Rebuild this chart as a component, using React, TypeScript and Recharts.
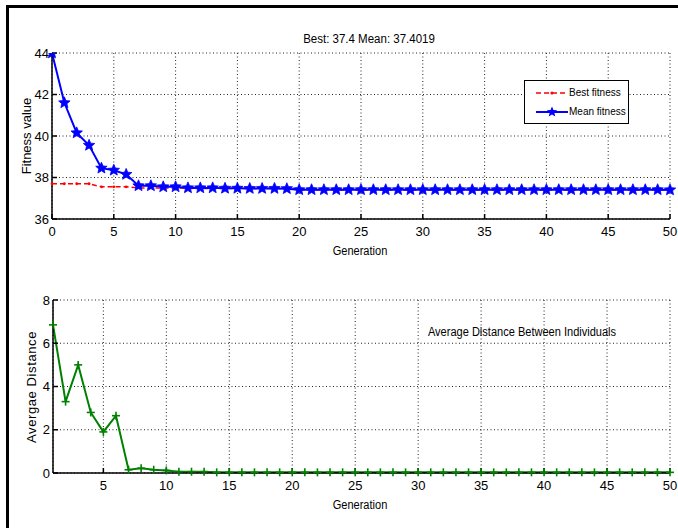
import React from 'react';
import { LineChart, Line, XAxis, YAxis, CartesianGrid } from 'recharts';

const generations = [
  0, 1, 2, 3, 4, 5, 6, 7, 8, 9, 10, 11, 12, 13, 14, 15, 16, 17, 18, 19, 20, 21, 22, 23, 24, 25,
  26, 27, 28, 29, 30, 31, 32, 33, 34, 35, 36, 37, 38, 39, 40, 41, 42, 43, 44, 45, 46, 47, 48, 49, 50,
];

const bestFitness = [
  37.7, 37.7, 37.7, 37.7, 37.55, 37.55, 37.55, 37.5, 37.5, 37.5, 37.5, 37.47, 37.47, 37.47, 37.47,
  37.47, 37.47, 37.47, 37.47, 37.47, 37.4, 37.4, 37.4, 37.4, 37.4, 37.4, 37.4, 37.4, 37.4, 37.4,
  37.4, 37.4, 37.4, 37.4, 37.4, 37.4, 37.4, 37.4, 37.4, 37.4, 37.4, 37.4, 37.4, 37.4, 37.4, 37.4,
  37.4, 37.4, 37.4, 37.4, 37.4,
];

const meanFitness = [
  44.0, 41.6, 40.15, 39.55, 38.45, 38.35, 38.15, 37.6, 37.6, 37.55, 37.55, 37.5, 37.5, 37.5, 37.48,
  37.48, 37.47, 37.47, 37.47, 37.46, 37.41, 37.41, 37.41, 37.41, 37.41, 37.41, 37.41, 37.41, 37.41,
  37.41, 37.41, 37.41, 37.41, 37.41, 37.41, 37.41, 37.41, 37.41, 37.41, 37.41, 37.41, 37.41, 37.41,
  37.41, 37.41, 37.41, 37.41, 37.41, 37.41, 37.41, 37.4019,
];

const distGenerations = [
  1, 2, 3, 4, 5, 6, 7, 8, 9, 10, 11, 12, 13, 14, 15, 16, 17, 18, 19, 20, 21, 22, 23, 24, 25, 26,
  27, 28, 29, 30, 31, 32, 33, 34, 35, 36, 37, 38, 39, 40, 41, 42, 43, 44, 45, 46, 47, 48, 49, 50,
];

const avgDistance = [
  6.85, 3.3, 5.0, 2.8, 1.9, 2.65, 0.15, 0.22, 0.15, 0.12, 0.06, 0.06, 0.06, 0.03, 0.03, 0.03,
  0.03, 0.03, 0.03, 0.03, 0.03, 0.03, 0.03, 0.03, 0.03, 0.03, 0.03, 0.03, 0.03, 0.03, 0.03, 0.03,
  0.03, 0.03, 0.03, 0.03, 0.03, 0.03, 0.03, 0.03, 0.03, 0.03, 0.03, 0.03, 0.03, 0.03, 0.03, 0.03,
  0.03, 0.03,
];

const topXTicks = [0, 5, 10, 15, 20, 25, 30, 35, 40, 45, 50];
const topYTicks = [36, 38, 40, 42, 44];
const bottomXTicks = [5, 10, 15, 20, 25, 30, 35, 40, 45, 50];
const bottomYTicks = [0, 2, 4, 6, 8];

const fitnessData = generations.map((g, i) => ({ gen: g, best: bestFitness[i], mean: meanFitness[i] }));
const distanceData = distGenerations.map((g, i) => ({ gen: g, dist: avgDistance[i] }));

const FONT = "'Liberation Sans', Arial, sans-serif";
const tickStyle = { fill: '#000', fontSize: 13, fontFamily: FONT };

function starPoints(cx: number, cy: number, r: number) {
  const pts: string[] = [];
  for (let i = 0; i < 10; i++) {
    const rad = i % 2 === 0 ? r : r * 0.45;
    const a = -Math.PI / 2 + (i * Math.PI) / 5;
    pts.push(`${cx + rad * Math.cos(a)},${cy + rad * Math.sin(a)}`);
  }
  return pts.join(' ');
}

const StarDot = (props: any) => {
  const { cx, cy, index } = props;
  if (cx == null || cy == null) return <g key={`s-${index}`} />;
  return <polygon key={`s-${index}`} points={starPoints(cx, cy, 6)} fill="#0000ff" stroke="#0000ff" strokeWidth={0.8} />;
};

const PlusDot = (props: any) => {
  const { cx, cy, index } = props;
  if (cx == null || cy == null) return <g key={`p-${index}`} />;
  return (
    <g key={`p-${index}`} stroke="#008000" strokeWidth={1.6}>
      <line x1={cx - 4} y1={cy} x2={cx + 4} y2={cy} />
      <line x1={cx} y1={cy - 4} x2={cx} y2={cy + 4} />
    </g>
  );
};

const PointDot = (props: any) => {
  const { cx, cy, index } = props;
  if (cx == null || cy == null) return <g key={`d-${index}`} />;
  return <circle key={`d-${index}`} cx={cx} cy={cy} r={1.4} fill="#ff0000" />;
};

const textBase: React.CSSProperties = {
  position: 'absolute',
  fontFamily: FONT,
  color: '#000',
  whiteSpace: 'nowrap',
  transform: 'translate(-50%, -50%) scaleX(0.92)',
  lineHeight: 1,
};

export default function App() {
  return (
    <div style={{ position: 'absolute', left: 0, top: 0, width: 678, height: 528, background: '#fff', overflow: 'hidden' }}>
      <div
        style={{
          position: 'absolute',
          left: 6,
          top: 5,
          width: 680,
          height: 530,
          borderLeft: '3px solid #000',
          borderTop: '3px solid #000',
        }}
      />

      <div style={{ position: 'absolute', left: 0, top: 0 }}>
        <LineChart width={678} height={260} data={fitnessData} margin={{ top: 53, right: 8, bottom: 0, left: 0 }}>
          <CartesianGrid stroke="#222" strokeDasharray="1 2.5" />
          <XAxis
            dataKey="gen"
            type="number"
            domain={[0, 50]}
            ticks={topXTicks}
            height={41}
            tick={tickStyle}
            tickSize={-5}
            tickMargin={13}
            stroke="#000"
            strokeWidth={1.5}
          />
          <YAxis
            type="number"
            domain={[36, 44]}
            ticks={topYTicks}
            width={52}
            tick={tickStyle}
            tickSize={-5}
            tickMargin={8}
            stroke="#000"
            strokeWidth={1.5}
            allowDataOverflow
          />
          <Line
            dataKey="best"
            stroke="#ff0000"
            strokeWidth={1.5}
            strokeDasharray="5 3"
            dot={PointDot}
            isAnimationActive={false}
          />
          <Line dataKey="mean" stroke="#0000ff" strokeWidth={2} dot={StarDot} isAnimationActive={false} />
        </LineChart>
      </div>

      <div style={{ position: 'absolute', left: 0, top: 260 }}>
        <LineChart width={678} height={268} data={distanceData} margin={{ top: 40, right: 8, bottom: 0, left: 0 }}>
          <CartesianGrid stroke="#222" strokeDasharray="1 2.5" />
          <XAxis
            dataKey="gen"
            type="number"
            domain={[1, 50]}
            ticks={bottomXTicks}
            height={55}
            tick={tickStyle}
            tickSize={-5}
            tickMargin={13}
            stroke="#000"
            strokeWidth={1.5}
          />
          <YAxis
            type="number"
            domain={[0, 8]}
            ticks={bottomYTicks}
            width={53}
            tick={tickStyle}
            tickSize={-5}
            tickMargin={8}
            stroke="#000"
            strokeWidth={1.5}
          />
          <Line dataKey="dist" stroke="#008000" strokeWidth={2} dot={PlusDot} isAnimationActive={false} />
        </LineChart>
      </div>

      <div style={{ ...textBase, left: 369, top: 39, fontSize: 12.5 }}>Best: 37.4 Mean: 37.4019</div>
      <div style={{ ...textBase, left: 360, top: 251, fontSize: 12 }}>Generation</div>
      <div style={{ ...textBase, left: 360, top: 505, fontSize: 12 }}>Generation</div>
      <div style={{ ...textBase, left: 26, top: 136, fontSize: 13, transform: 'translate(-50%, -50%) rotate(-90deg)' }}>
        Fitness value
      </div>
      <div style={{ ...textBase, left: 31, top: 387, fontSize: 13, letterSpacing: 0.6, transform: 'translate(-50%, -50%) rotate(-90deg)' }}>
        Avergae Distance
      </div>
      <div style={{ ...textBase, left: 522, top: 332, fontSize: 12 }}>Average Distance Between Individuals</div>

      <div
        style={{
          position: 'absolute',
          left: 524,
          top: 80,
          width: 103,
          height: 42,
          border: '1px solid #000',
          background: '#fff',
          fontFamily: FONT,
          fontSize: 10,
        }}
      >
        <svg width={44} height={42} style={{ position: 'absolute', left: 0, top: 0 }}>
          <line x1={11} y1={12} x2={43} y2={12} stroke="#ff0000" strokeWidth={1.5} strokeDasharray="5 3" />
          <circle cx={27} cy={12} r={1.6} fill="#ff0000" />
          <line x1={11} y1={31} x2={43} y2={31} stroke="#0000ff" strokeWidth={2} />
          <polygon points={starPoints(27, 31, 5.5)} fill="#0000ff" />
        </svg>
        <div style={{ position: 'absolute', left: 44, top: 6 }}>Best fitness</div>
        <div style={{ position: 'absolute', left: 44, top: 25 }}>Mean fitness</div>
      </div>
    </div>
  );
}
